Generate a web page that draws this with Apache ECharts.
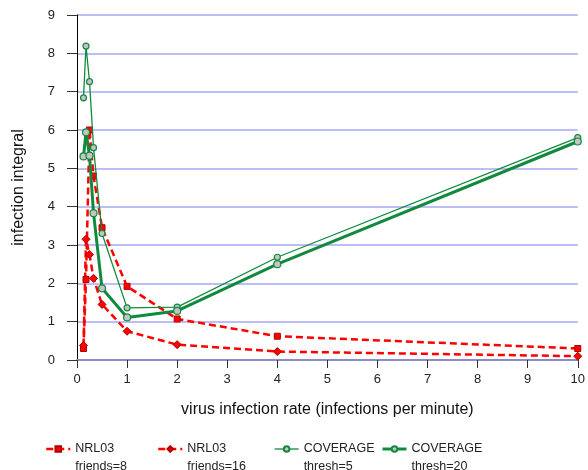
<!DOCTYPE html>
<html>
<head>
<meta charset="utf-8">
<script src="https://cdn.jsdelivr.net/npm/echarts@6/dist/echarts.min.js"></script>
<style>
html, body { margin: 0; padding: 0; background: #fff; }
#chart { width: 588px; height: 470px; }
</style>
</head>
<body>
<div id="chart"></div>
<script>
// infection rates (per minute)
var rates = [0.13, 0.18, 0.25, 0.33, 0.5, 1, 2, 4, 10];
var nrlF8 = [0.3, 2.1, 6.0, 4.8, 3.45, 1.92, 1.07, 0.62, 0.3];
var nrlF16 = [0.38, 3.15, 2.75, 2.13, 1.45, 0.75, 0.4, 0.22, 0.1];
var covT5 = [6.84, 8.19, 7.26, 5.54, 3.3, 1.36, 1.38, 2.68, 5.8];
var covT20 = [5.31, 5.94, 5.33, 3.83, 1.87, 1.11, 1.28, 2.5, 5.7];
var names = ['NRL03\nfriends=8', 'NRL03\nfriends=16', 'COVERAGE\nthresh=5', 'COVERAGE\nthresh=20'];

function pairs(ys) {
    var out = [];
    for (var i = 0; i < rates.length; i++) {
        out.push([rates[i], ys[i]]);
    }
    return out;
}

var red = '#ff0000';
var green = '#128a3e';
var font = 'Liberation Sans, Arial, sans-serif';

function legendAt(name, x, lw) {
    return {
        data: [name],
        left: x,
        top: 422,
        padding: 0,
        itemWidth: 24,
        itemHeight: 7,
        lineStyle: { width: lw },
        // blank first line keeps the first label line level with the icon
        formatter: function (n) { return ' \n' + n; },
        textStyle: {
            fontFamily: font,
            fontSize: 12.5,
            color: '#222',
            lineHeight: 18
        }
    };
}

var myChart = echarts.init(document.getElementById('chart'));
var option = {
    animation: false,
    backgroundColor: '#fff',
    grid: { left: 77, right: 8, top: 15, bottom: 110, containLabel: false },
    legend: [
        legendAt(names[0], 45, 2.5),
        legendAt(names[1], 157, 2.5),
        legendAt(names[2], 274, 1.3),
        legendAt(names[3], 381, 3)
    ],
    xAxis: {
        type: 'value',
        min: 0, max: 10, interval: 1,
        name: 'virus infection rate (infections per minute)',
        nameLocation: 'middle',
        nameGap: 42,
        nameTextStyle: { fontFamily: font, fontSize: 16, color: '#111' },
        axisLine: { lineStyle: { color: '#8c8cc4', width: 2 } },
        axisTick: { length: 8, lineStyle: { color: '#333' } },
        axisLabel: { margin: 13, fontFamily: font, fontSize: 13, color: '#222' },
        splitLine: { show: false }
    },
    yAxis: {
        type: 'value',
        min: 0, max: 9, interval: 1,
        name: 'infection integral',
        nameLocation: 'middle',
        nameGap: 50,
        nameTextStyle: { fontFamily: font, fontSize: 16, color: '#111' },
        axisLine: { show: true, lineStyle: { color: '#000', width: 1 } },
        axisTick: { show: true, length: 10, lineStyle: { color: '#333' } },
        axisLabel: { margin: 22, fontFamily: font, fontSize: 13, color: '#222' },
        splitLine: { show: true, lineStyle: { color: '#a8a8f4', width: 1.5 } }
    },
    series: [
        {
            name: names[0],
            type: 'line',
            data: pairs(nrlF8),
            symbol: 'rect',
            symbolSize: 6,
            itemStyle: { color: red, borderColor: '#b00000', borderWidth: 1 },
            lineStyle: { color: red, width: 2.5, type: [7, 4] },
            z: 3
        },
        {
            name: names[1],
            type: 'line',
            data: pairs(nrlF16),
            symbol: 'diamond',
            symbolSize: 8,
            itemStyle: { color: red, borderColor: '#b00000', borderWidth: 1 },
            lineStyle: { color: red, width: 2.5, type: [7, 4] },
            z: 3
        },
        {
            name: names[2],
            type: 'line',
            data: pairs(covT5),
            symbol: 'circle',
            symbolSize: 6,
            showAllSymbol: true,
            itemStyle: { color: '#c4c4c4', borderColor: green, borderWidth: 1.2 },
            lineStyle: { color: green, width: 1.3 },
            z: 4
        },
        {
            name: names[3],
            type: 'line',
            data: pairs(covT20),
            symbol: 'circle',
            symbolSize: 7,
            showAllSymbol: true,
            itemStyle: { color: '#c4c4c4', borderColor: green, borderWidth: 1.2 },
            lineStyle: { color: green, width: 3 },
            z: 4
        }
    ]
};
myChart.setOption(option);
</script>
</body>
</html>
